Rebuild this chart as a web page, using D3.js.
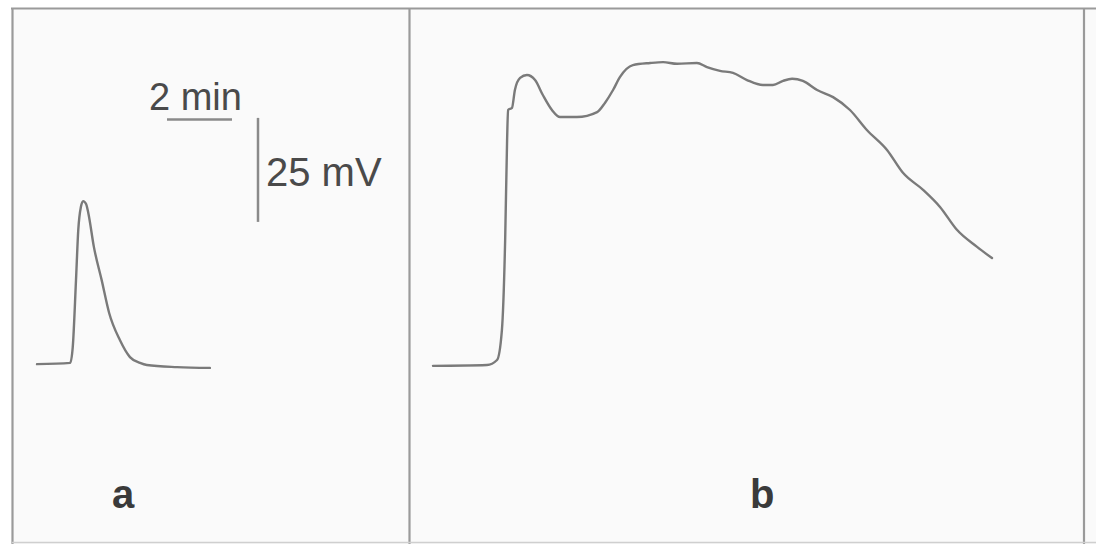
<!DOCTYPE html>
<html>
<head>
<meta charset="utf-8">
<script src="https://cdn.jsdelivr.net/npm/d3@7"></script>
<style>
  html, body { margin: 0; padding: 0; background: #ffffff; }
  svg { display: block; }
</style>
</head>
<body>
<svg id="chart" width="1096" height="544"></svg>
<script>
// ---- Data (time in minutes, potential in mV above baseline) ----
const traceATime = [0, 1.02, 1.10, 1.20, 1.27, 1.35, 1.42, 1.51, 1.58, 1.75, 1.99, 2.22, 2.55, 2.86, 3.17, 3.38, 4.31, 5.32];
const traceAVolt = [0.2, 0.5, 4.3, 20.4, 32.5, 38.0, 39.4, 38.7, 36.5, 28.4, 20.4, 12.5, 6.0, 1.9, 0.5, 0, -0.5, -0.7];

const traceBTime = [0, 1.66, 1.97, 2.12, 2.22, 2.28, 2.31, 2.43, 2.52, 2.68, 2.89, 3.14, 3.38, 3.66, 3.91, 4.43, 5.05, 5.29, 5.54, 5.75, 6.15, 6.68, 7.08, 7.51, 8.12, 8.43, 8.83, 9.23, 9.66, 10.15, 10.46, 10.77, 11.05, 11.38, 11.82, 12.31, 12.83, 13.35, 13.97, 14.46, 15.08, 15.60, 16.12, 16.74, 17.20];
const traceBVolt = [-0.2, 0, 1.2, 8.4, 30.0, 54.1, 61.3, 61.8, 66.1, 69.0, 69.7, 68.5, 64.9, 61.3, 59.6, 59.6, 60.8, 63.0, 66.1, 69.2, 72.1, 72.6, 72.8, 72.4, 72.6, 71.6, 70.7, 70.2, 68.5, 67.3, 67.3, 68.3, 68.8, 68.3, 66.1, 64.4, 61.3, 56.5, 51.7, 46.2, 42.1, 38.0, 32.5, 28.4, 25.7];

const panelLabels = ["a", "b"];
const scaleBarTimeLabel = "2 min";
const scaleBarVoltLabel = "25 mV";
const scaleBarTime = [4, 6];        // min, horizontal calibration bar (2 min)
const scaleBarTimeLevel = 59;       // mV level of horizontal bar
const scaleBarVolt = [34.4, 59.4];  // mV, vertical calibration bar (25 mV)
const scaleBarVoltAt = 6.8;         // min position of vertical bar

// ---- Layout ----
const svg = d3.select("#chart");
const pxPerMin = 32.5, pxPerMv = 4.16, baseY = 365;

const panels = [
  { origin: 37, time: traceATime, volt: traceAVolt, label: panelLabels[0], lx: 112 },
  { origin: 433, time: traceBTime, volt: traceBVolt, label: panelLabels[1], lx: 750 }
];

// background
svg.append("rect").attr("x", 12).attr("y", 8).attr("width", 1084).attr("height", 536).attr("fill", "#fafafa");

const y = d3.scaleLinear().domain([0, 25]).range([baseY, baseY - 25 * pxPerMv]);

panels.forEach(p => {
  const x = d3.scaleLinear().domain([0, 2]).range([p.origin, p.origin + 2 * pxPerMin]);
  p.x = x;
  const data = p.time.map((t, i) => [t, p.volt[i]]);
  const line = d3.line().x(d => x(d[0])).y(d => y(d[1])).curve(d3.curveMonotoneX);
  svg.append("path")
    .attr("d", line(data))
    .attr("fill", "none")
    .attr("stroke", "#7a7a7a")
    .attr("stroke-width", 2.4)
    .attr("stroke-linejoin", "round")
    .attr("stroke-linecap", "round");
  svg.append("text")
    .attr("x", p.lx).attr("y", 508)
    .attr("font-family", "Liberation Sans, Arial, sans-serif")
    .attr("font-weight", "bold")
    .attr("font-size", 40)
    .attr("fill", "#3a3a3a")
    .text(p.label);
});

// scale bars (panel a)
const xa = panels[0].x;
svg.append("line")
  .attr("x1", xa(scaleBarTime[0])).attr("x2", xa(scaleBarTime[1]))
  .attr("y1", y(scaleBarTimeLevel)).attr("y2", y(scaleBarTimeLevel))
  .attr("stroke", "#8a8a8a").attr("stroke-width", 2.5);
svg.append("line")
  .attr("x1", xa(scaleBarVoltAt)).attr("x2", xa(scaleBarVoltAt))
  .attr("y1", y(scaleBarVolt[0])).attr("y2", y(scaleBarVolt[1]))
  .attr("stroke", "#8a8a8a").attr("stroke-width", 2.5);

svg.append("text")
  .attr("x", 149).attr("y", 110)
  .attr("font-family", "Liberation Sans, Arial, sans-serif")
  .attr("font-size", 38)
  .attr("fill", "#4a4a4a")
  .text(scaleBarTimeLabel);
svg.append("text")
  .attr("x", 266).attr("y", 186)
  .attr("font-family", "Liberation Sans, Arial, sans-serif")
  .attr("font-size", 40)
  .attr("fill", "#4a4a4a")
  .text(scaleBarVoltLabel);

// frame lines
const frame = svg.append("g").attr("stroke", "#9a9a9a").attr("stroke-width", 2.2).attr("fill", "none");
frame.append("line").attr("x1", 11).attr("x2", 1096).attr("y1", 8.5).attr("y2", 8.5);
frame.append("line").attr("x1", 12.5).attr("x2", 12.5).attr("y1", 8).attr("y2", 544);
frame.append("line").attr("x1", 409.5).attr("x2", 409.5).attr("y1", 8).attr("y2", 544);
frame.append("line").attr("x1", 1084).attr("x2", 1084).attr("y1", 8).attr("y2", 544);
frame.append("line").attr("x1", 12).attr("x2", 1096).attr("y1", 542.5).attr("y2", 542.5).attr("stroke", "#cfcfcf").attr("stroke-width", 1.5);
</script>
</body>
</html>
